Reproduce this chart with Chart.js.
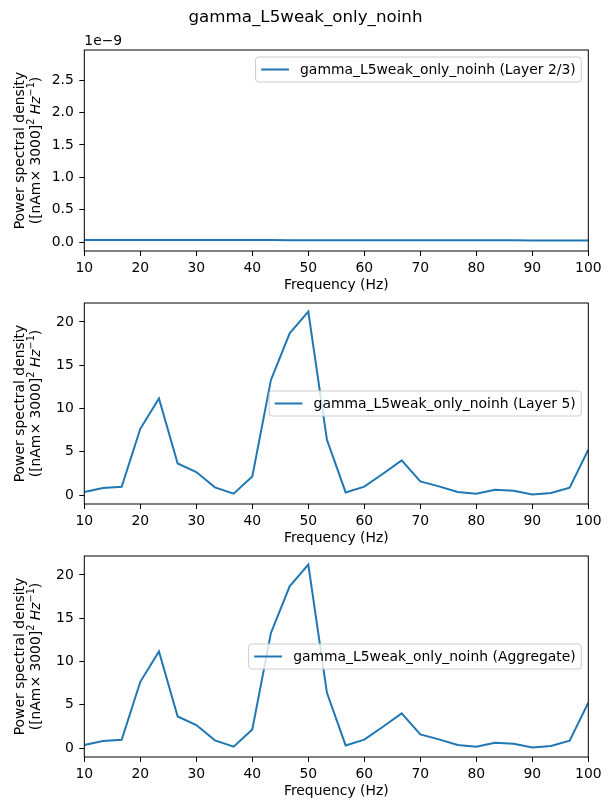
<!DOCTYPE html>
<html>
<head>
<meta charset="utf-8">
<script src="https://cdn.jsdelivr.net/npm/chart.js@4.4.0/dist/chart.umd.min.js"></script>
<style>
  html, body { margin: 0; padding: 0; background: #fff; }
  body { width: 611px; height: 811px; position: relative; overflow: hidden; }
  canvas { position: absolute; left: 0; }
</style>
</head>
<body>
<canvas id="c1" width="611" height="296" style="top:0px"></canvas>
<canvas id="c2" width="611" height="266" style="top:283px"></canvas>
<canvas id="c3" width="611" height="266" style="top:536px"></canvas>
<script>
// frequencies (Hz)
const freqs = [10, 13.33, 16.67, 20, 23.33, 26.67, 30, 33.33, 36.67, 40,
  43.33, 46.67, 50, 53.33, 56.67, 60, 63.33, 66.67, 70, 73.33,
  76.67, 80, 83.33, 86.67, 90, 93.33, 96.67, 100];

// power spectral density per layer
const layer23 = [3.3e-11, 3.3e-11, 3.3e-11, 3.2e-11, 3.2e-11, 3.2e-11, 3.2e-11, 3.1e-11, 3.1e-11, 3.1e-11,
  3.1e-11, 3.0e-11, 3.0e-11, 3.0e-11, 3.0e-11, 2.9e-11, 2.9e-11, 2.9e-11, 2.8e-11, 2.8e-11,
  2.8e-11, 2.7e-11, 2.7e-11, 2.7e-11, 2.6e-11, 2.6e-11, 2.5e-11, 2.5e-11];
const layer5 = [0.34, 0.80, 0.96, 7.65, 11.15, 3.65, 2.65, 0.88, 0.15, 2.15,
  13.3, 18.69, 21.19, 6.38, 0.30, 0.96, 2.46, 4.0, 1.57, 1.0,
  0.34, 0.15, 0.61, 0.50, 0.07, 0.23, 0.84, 5.23];
const aggregate = [0.34, 0.80, 0.96, 7.65, 11.15, 3.65, 2.65, 0.88, 0.15, 2.15,
  13.3, 18.69, 21.19, 6.38, 0.30, 0.96, 2.46, 4.0, 1.57, 1.0,
  0.34, 0.15, 0.61, 0.50, 0.07, 0.23, 0.84, 5.23];

// tick labels
const xTicks = [10, 20, 30, 40, 50, 60, 70, 80, 90, 100];
const yTicksTop = [0, 0.5e-9, 1.0e-9, 1.5e-9, 2.0e-9, 2.5e-9];
const yTicksPsd = [0, 5, 10, 15, 20];

const suptitle = 'gamma_L5weak_only_noinh';
const FONT = 'DejaVu Sans';
const FS = 13.9;
const BLUE = '#1f77b4';

// frame, y label, offset text, legend, title
const deco = {
  id: 'deco',
  afterDatasetsDraw(chart, args, opts) {
    const ctx = chart.ctx;
    const a = chart.chartArea;
    ctx.save();

    // axes frame
    ctx.strokeStyle = '#000';
    ctx.lineWidth = 1;
    ctx.strokeRect(a.left, a.top, a.right - a.left, a.bottom - a.top);

    // y label (two lines, rotated)
    const cy = (a.top + a.bottom) / 2;
    ctx.fillStyle = '#000';
    ctx.textBaseline = 'alphabetic';
    ctx.save();
    ctx.translate(23.5, cy);
    ctx.rotate(-Math.PI / 2);
    ctx.font = FS + 'px "' + FONT + '"';
    ctx.textAlign = 'center';
    ctx.fillText('Power spectral density', 0, 0);
    ctx.restore();

    const parts = [
      { t: '([nAm\u00d7 3000]', f: FS + 'px "' + FONT + '"', dy: 0 },
      { t: '2', f: (FS * 0.7) + 'px "' + FONT + '"', dy: -FS * 0.42 },
      { t: ' ', f: FS + 'px "' + FONT + '"', dy: 0 },
      { t: 'Hz', f: 'oblique ' + FS + 'px "' + FONT + '"', dy: 0 },
      { t: '\u22121', f: (FS * 0.7) + 'px "' + FONT + '"', dy: -FS * 0.42 },
      { t: ')', f: FS + 'px "' + FONT + '"', dy: 0 }
    ];
    let total = 0;
    parts.forEach(p => { ctx.font = p.f; p.w = ctx.measureText(p.t).width; total += p.w; });
    ctx.save();
    ctx.translate(39.5, cy);
    ctx.rotate(-Math.PI / 2);
    ctx.textAlign = 'left';
    let px = -total / 2;
    parts.forEach(p => { ctx.font = p.f; ctx.fillText(p.t, px, p.dy); px += p.w; });
    ctx.restore();

    // offset text
    if (opts.offsetText) {
      ctx.font = FS + 'px "' + FONT + '"';
      ctx.textAlign = 'left';
      ctx.fillText(opts.offsetText, a.left, a.top - 5);
    }

    // suptitle
    if (opts.title) {
      ctx.font = (FS * 1.2) + 'px "' + FONT + '"';
      ctx.textAlign = 'center';
      ctx.fillText(opts.title, 305.5, 21.8);
    }

    // legend
    ctx.font = FS + 'px "' + FONT + '"';
    const tw = ctx.measureText(opts.label).width;
    const pad = FS * 0.4, hl = FS * 2, hp = FS * 0.8;
    const bw = pad + hl + hp + tw + pad;
    const bh = 25;
    const bx = a.right - 7 - bw;
    const by = opts.loc === 'upper right' ? a.top + 7 : cy - bh / 2;
    ctx.beginPath();
    ctx.roundRect(bx, by, bw, bh, 3);
    ctx.fillStyle = 'rgba(255,255,255,0.8)';
    ctx.fill();
    ctx.strokeStyle = '#cccccc';
    ctx.lineWidth = 1;
    ctx.stroke();
    const ly = by + bh / 2;
    ctx.strokeStyle = BLUE;
    ctx.lineWidth = 2;
    ctx.beginPath();
    ctx.moveTo(bx + pad, ly);
    ctx.lineTo(bx + pad + hl, ly);
    ctx.stroke();
    ctx.fillStyle = '#000';
    ctx.textAlign = 'left';
    ctx.textBaseline = 'middle';
    ctx.fillText(opts.label, bx + pad + hl + hp, ly + 1);

    ctx.restore();
  }
};

function makePanel(id, values, yMin, yMax, yTicks, yFmt, padTop, decoOpts) {
  const points = freqs.map((f, i) => ({ x: f, y: values[i] }));
  return new Chart(document.getElementById(id), {
    type: 'line',
    data: {
      datasets: [{
        data: points,
        borderColor: BLUE,
        borderWidth: 2,
        pointRadius: 0,
        tension: 0,
        fill: false
      }]
    },
    options: {
      responsive: false,
      animation: false,
      events: [],
      layout: { padding: { top: padTop, right: 22.7, left: 0, bottom: 0 } },
      plugins: {
        legend: { display: false },
        tooltip: { enabled: false },
        deco: decoOpts
      },
      scales: {
        x: {
          type: 'linear',
          min: 10,
          max: 100,
          bounds: 'data',
          afterFit: s => { s.height = 45; },
          afterBuildTicks: s => { s.ticks = xTicks.map(v => ({ value: v })); },
          grid: { drawOnChartArea: false, drawTicks: true, tickLength: 5, color: '#000', lineWidth: 1 },
          border: { display: false },
          ticks: {
            color: '#000', font: { family: FONT, size: FS }, padding: 3.8,
            maxRotation: 0, autoSkip: false, callback: v => String(v)
          },
          title: {
            display: true, text: 'Frequency (Hz)', color: '#000',
            font: { family: FONT, size: FS }, padding: { top: 0, bottom: 2 }
          }
        },
        y: {
          type: 'linear',
          min: yMin,
          max: yMax,
          bounds: 'data',
          afterFit: s => { s.width = 84.3; },
          afterBuildTicks: s => { s.ticks = yTicks.map(v => ({ value: v })); },
          grid: { drawOnChartArea: false, drawTicks: true, tickLength: 5, color: '#000', lineWidth: 1 },
          border: { display: false },
          ticks: {
            color: '#000', font: { family: FONT, size: FS }, padding: 5.5,
            autoSkip: false, callback: yFmt
          }
        }
      }
    },
    plugins: [deco]
  });
}

makePanel('c1', layer23, -0.138e-9, 2.968e-9, yTicksTop, v => (v * 1e9).toFixed(1), 50,
  { label: 'gamma_L5weak_only_noinh (Layer 2/3)', loc: 'upper right', offsetText: '1e\u22129', title: suptitle });
makePanel('c2', layer5, -1.04, 22.19, yTicksPsd, v => String(v), 20,
  { label: 'gamma_L5weak_only_noinh (Layer 5)', loc: 'center right' });
makePanel('c3', aggregate, -1.04, 22.19, yTicksPsd, v => String(v), 20,
  { label: 'gamma_L5weak_only_noinh (Aggregate)', loc: 'center right' });
</script>
</body>
</html>
